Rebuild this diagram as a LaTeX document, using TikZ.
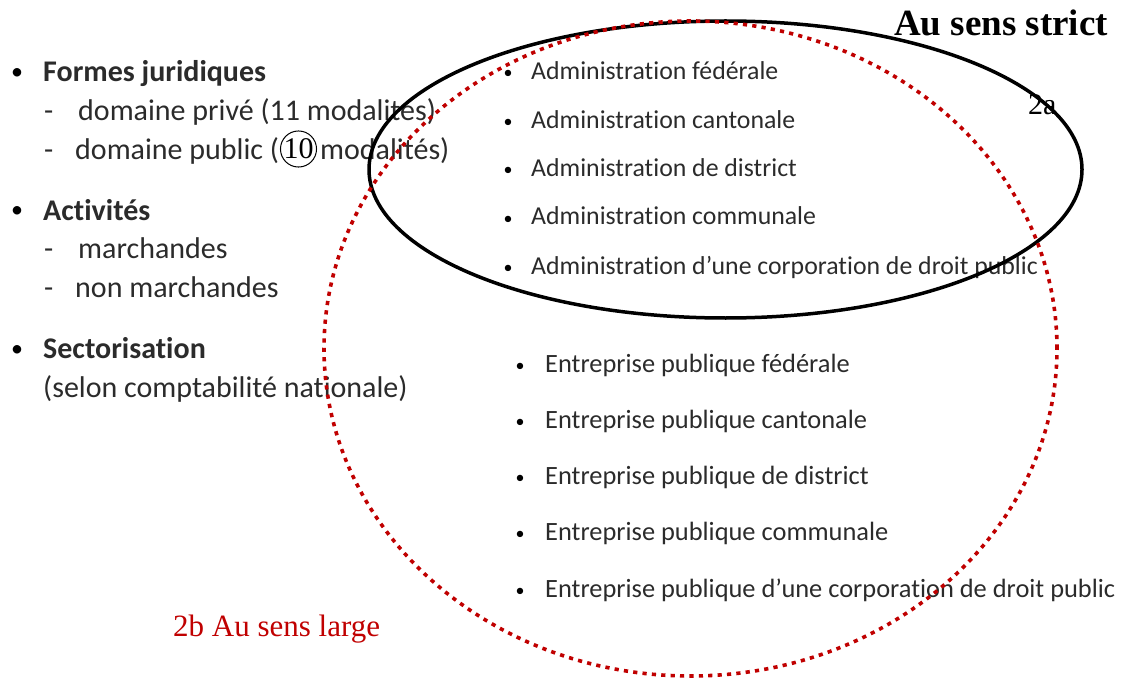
\documentclass[tikz,border=0pt]{standalone}
\usepackage{fontspec}
\setmainfont{Liberation Serif}
\newfontfamily\calfont[RawFeature={-liga;-clig;-calt;-dlig}]{Carlito}
\usetikzlibrary{shapes.geometric}
\definecolor{dred}{HTML}{C00000}
\definecolor{txt}{HTML}{2B2B2B}
\begin{document}
\begin{tikzpicture}[x=1pt,y=-1pt,
  lt/.style={anchor=base west, inner sep=0, text=txt, font=\calfont\fontsize{30}{36}\selectfont},
  ltb/.style={lt, font=\calfont\bfseries\fontsize{30}{36}\selectfont},
  rt/.style={anchor=base west, inner sep=0, text=txt, font=\calfont\fontsize{25.8}{30}\selectfont},
  rtb/.style={rt, font=\calfont\fontsize{26.4}{30}\selectfont},
  bul/.style={anchor=base, inner sep=0, text=black, font=\calfont\fontsize{24}{30}\selectfont},
  sbul/.style={anchor=base, inner sep=0, text=black, font=\calfont\fontsize{18}{24}\selectfont},
  serif/.style={anchor=base west, inner sep=0},
  strictline/.style={draw=black, line width=3.5pt, ellipse, inner sep=0},
  largeline/.style={draw=dred, line width=3.6pt, dash pattern=on 4.2pt off 5.2pt, ellipse, inner sep=0}
]
\useasboundingbox (0,0) rectangle (1124,679);

% left column
\node[bul] (b1) at (17,80) {•};
\node[ltb] (fj) at (43,82) {Formes juridiques};
\node[lt] (d1) at (44,121) {-};
\node[lt] (dpr) at (78,121) {domaine privé (11 modalités)};
\node[lt] (d2) at (44,160) {-};
\node[lt] (dpu) at (75,160) {domaine public (\phantom{10}\hspace{4pt} modalités)};
\node[circle, draw, line width=1pt, fill=white, inner sep=0, minimum size=33pt, font=\fontsize{30}{32}\selectfont] (ten) at (298.5,149) {10};

\node[bul] (b2) at (17,218) {•};
\node[ltb] (act) at (43,220) {Activités};
\node[lt] (d3) at (44,258) {-};
\node[lt] (mar) at (78,258) {marchandes};
\node[lt] (d4) at (44,297) {-};
\node[lt] (nmar) at (75,297) {non marchandes};

\node[bul] (b3) at (17,356) {•};
\node[ltb] (sec) at (43,358) {Sectorisation};
\node[lt] (sel) at (43,397) {(selon comptabilité nationale)};

% administration list
\node[sbul] (ab1) at (508,79) {•};
\node[rt] (a1) at (531,80) {Administration fédérale};
\node[sbul] (ab2) at (508,128) {•};
\node[rt] (a2) at (531,129) {Administration cantonale};
\node[sbul] (ab3) at (508,176) {•};
\node[rt] (a3) at (531,177) {Administration de district};
\node[sbul] (ab4) at (508,224) {•};
\node[rt] (a4) at (531,225) {Administration communale};
\node[sbul] (ab5) at (508,273) {•};
\node[rt] (a5) at (531,274) {Administration d’une corporation de droit public};

% entreprise list
\node[sbul] (eb1) at (520,371) {•};
\node[rtb] (e1) at (545,372) {Entreprise publique fédérale};
\node[sbul] (eb2) at (520,427) {•};
\node[rtb] (e2) at (545,428) {Entreprise publique cantonale};
\node[sbul] (eb3) at (520,483) {•};
\node[rtb] (e3) at (545,484) {Entreprise publique de district};
\node[sbul] (eb4) at (520,539) {•};
\node[rtb] (e4) at (545,540) {Entreprise publique communale};
\node[sbul] (eb5) at (520,596) {•};
\node[rtb] (e5) at (545,597) {Entreprise publique d’une corporation de droit public};

% ellipses
\node[strictline, minimum width=713pt, minimum height=297pt] (strict) at (725.5,169.5) {};
\node[largeline, minimum width=733pt, minimum height=655pt] (large) at (690.5,348.5) {};

% labels
\node[serif, font=\bfseries\fontsize{37}{40}\selectfont] (ss) at (894,36) {Au sens strict};
\node[serif, font=\fontsize{30}{34}\selectfont] (l2a) at (1028,115) {2a};
\node[serif, text=dred, font=\fontsize{31}{34}\selectfont] (l2b) at (173,636) {2b Au sens large};
\end{tikzpicture}
\end{document}
